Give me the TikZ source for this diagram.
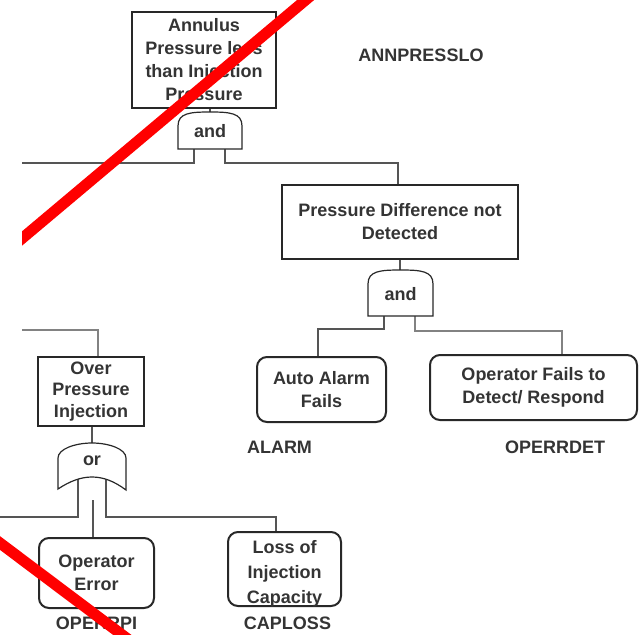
\documentclass[tikz,border=0pt]{standalone}
\usepackage{fontspec}
\setmainfont{Liberation Sans}
\definecolor{txt}{RGB}{52,52,52}
\definecolor{boxline}{RGB}{40,40,40}
\definecolor{wireline}{RGB}{85,85,85}
\definecolor{lightwire}{RGB}{130,130,130}
\definecolor{strike}{RGB}{255,0,0}
\begin{document}
\begin{tikzpicture}[x=1pt,y=-1pt,
  font=\fontsize{18}{23}\selectfont\bfseries,
  evt/.style={draw=boxline, line width=2.6pt, text=txt, align=center, inner sep=0pt},
  basic/.style={draw=boxline, line width=2pt, rounded corners=10pt, text=txt, align=center, inner sep=0pt},
  gate/.style={draw=boxline, line width=1.2pt, fill=white},
  gatetxt/.style={text=txt, inner sep=0pt},
  wire/.style={draw=wireline, line width=1.1pt},
  softwire/.style={draw=lightwire, line width=1.1pt},
  code/.style={text=txt, inner sep=0pt},
  redline/.style={draw=strike, line width=11pt}]

% canvas
\fill[white] (0,0) rectangle (644,634);
\useasboundingbox (0,0) rectangle (644,634);

% ---- events ----
\node[evt, minimum width=144pt, minimum height=96pt] (top) at (204,60)
  {Annulus\\Pressure less\\than Injection\\Pressure};
\node[evt, minimum width=236pt, minimum height=74pt] (pd) at (400,222)
  {Pressure Difference not\\Detected};
\node[evt, minimum width=106pt, minimum height=69pt] (op) at (91,391.5)
  {Over\\[-1.5pt]Pressure\\[-1.5pt]Injection};

% ---- basic events ----
\node[basic, minimum width=129pt, minimum height=65pt] (alarm) at (321.5,389.5)
  {Auto Alarm\\Fails};
\node[basic, minimum width=207pt, minimum height=65pt] (opdet) at (533.5,387.5)
  {Operator Fails to\\Detect/ Respond};
\node[basic, minimum width=115pt, minimum height=70pt] (operr) at (96.5,573)
  {Operator\\Error};
\node[basic, minimum width=113pt, minimum height=74pt] (cap) at (284.5,569)
  {};
\node[text=txt, align=center, inner sep=0pt] (captxt) at (284.5,574)
  {Loss of\\[2pt]Injection\\[2pt]Capacity};

% ---- codes ----
\node[code] (c1) at (421,55) {ANNPRESSLO};
\node[code] (c2) at (279.5,447) {ALARM};
\node[code] (c3) at (555,447) {OPERRDET};
\node[code] (c4) at (96.5,623) {OPERRPI};
\node[code] (c5) at (287.5,623) {CAPLOSS};

% ---- gate ports ----
\coordinate (g1in) at (210,112);
\coordinate (g1l) at (194,140);
\coordinate (g1r) at (225,140);
\coordinate (endA) at (22,163);
\coordinate (g2in) at (400,270);
\coordinate (g2l) at (384,305);
\coordinate (g2r) at (415,305);
\coordinate (endB) at (22,330);
\coordinate (orin) at (92,443);
\coordinate (orl) at (78,470);
\coordinate (orr) at (106,470);
\coordinate (endC) at (0,517);
\coordinate (ormid) at (93,500);

% ---- connectors ----
\draw[wire] (top.south -| g1in) -- (g1in);
\draw[wire] (g1l) -- ++(0,23) -- (endA);
\draw[wire] (g1r) -- ++(0,23) -| ([xshift=-2pt]pd.north);
\draw[wire] (pd.south -| g2in) -- (g2in);
\draw[wire] (g2l) -- ++(0,24) -| ([xshift=-3.5pt]alarm.north);
\draw[softwire] (g2r) -- ++(0,26) -| ([xshift=28.5pt]opdet.north);
\draw[softwire] (endB) -| ([xshift=7pt]op.north);
\draw[wire] (op.south -| orin) -- (orin);
\draw[wire] (orl) -- ++(0,47) -- (endC);
\draw[wire] (orr) -- ++(0,47) -| ([xshift=-8.5pt]cap.north);
\draw[wire] (ormid) -- (ormid |- operr.north);

% ---- gates ----
\draw[gate] (178,149) -- (178,126) .. controls (178,113) and (190,112) .. (210,112)
  .. controls (230,112) and (242,113) .. (242,126) -- (242,149) -- cycle;
\node[gatetxt] (g1) at (210,131) {and};

\draw[gate] (368,316) -- (368,284) .. controls (368,271) and (380,270) .. (400.5,270)
  .. controls (421,270) and (433,271) .. (433,284) -- (433,316) -- cycle;
\node[gatetxt] (g2) at (400.5,294) {and};

\draw[gate] (58,489) -- (58,458) .. controls (58,449) and (75,443) .. (92,443)
  .. controls (109,443) and (126,449) .. (126,458) -- (126,490)
  .. controls (114,481) and (103,477) .. (92,477)
  .. controls (81,477) and (70,481) .. (58,489) -- cycle;
\node[gatetxt] (g3) at (92,461) {or};

% ---- strike-through marks ----
\begin{scope}
  \clip (22,-20) rectangle (660,660);
  \draw[redline] (10,248.6) -- (320,-12.1);
\end{scope}
\draw[redline] (-12,534) -- (135,644.5);
\end{tikzpicture}
\end{document}
